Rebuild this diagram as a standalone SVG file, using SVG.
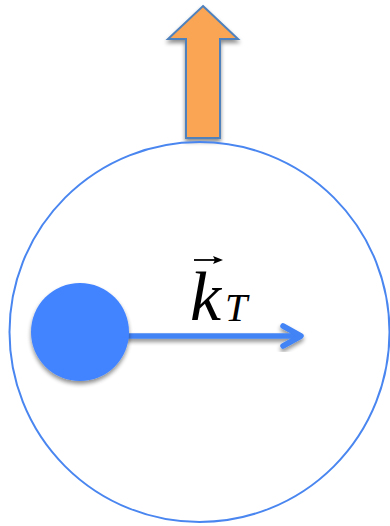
<svg xmlns="http://www.w3.org/2000/svg" width="390" height="526" viewBox="0 0 390 526">
<defs>
<filter id="sh" x="-30%" y="-30%" width="160%" height="160%">
<feGaussianBlur in="SourceAlpha" stdDeviation="2"/>
<feOffset dx="0" dy="3" result="b"/>
<feComponentTransfer><feFuncA type="linear" slope="0.45"/></feComponentTransfer>
<feMerge><feMergeNode/><feMergeNode in="SourceGraphic"/></feMerge>
</filter>
<style>
.lbl{font-family:"Liberation Serif","Times New Roman",serif;font-style:italic;fill:#000}
</style>
</defs>
<rect width="390" height="526" fill="#fff"/>
<g id="orange-arrow" filter="url(#sh)">
<polygon points="203,6 238,39 220,39 220,138 186,138 186,39 168,39" fill="#f9a553" stroke="#4f81bd" stroke-width="2" stroke-linejoin="miter"/>
</g>
<g id="big-circle">
<circle cx="199.5" cy="332" r="190" fill="none" stroke="#4a86f0" stroke-width="2"/>
</g>
<g id="connectors" filter="url(#sh)">
<line x1="125" y1="336" x2="300" y2="336" stroke="#4283f5" stroke-width="5.5"/>
<polyline points="283,326 301,336 283,346" fill="none" stroke="#4283f5" stroke-width="5.5" stroke-linecap="round" stroke-linejoin="round"/>
</g>
<g id="particle" filter="url(#sh)">
<circle cx="80" cy="332" r="49" fill="#4283ff"/>
</g>
<g id="label">
<text class="lbl" x="190" y="320" font-size="70">k</text>
<text class="lbl" x="225" y="321" font-size="40">T</text>
<line x1="194" y1="260" x2="218" y2="260" stroke="#000" stroke-width="1.8"/>
<polygon points="223,260 213,256 215,260 213,264" fill="#000"/>
</g>
</svg>
